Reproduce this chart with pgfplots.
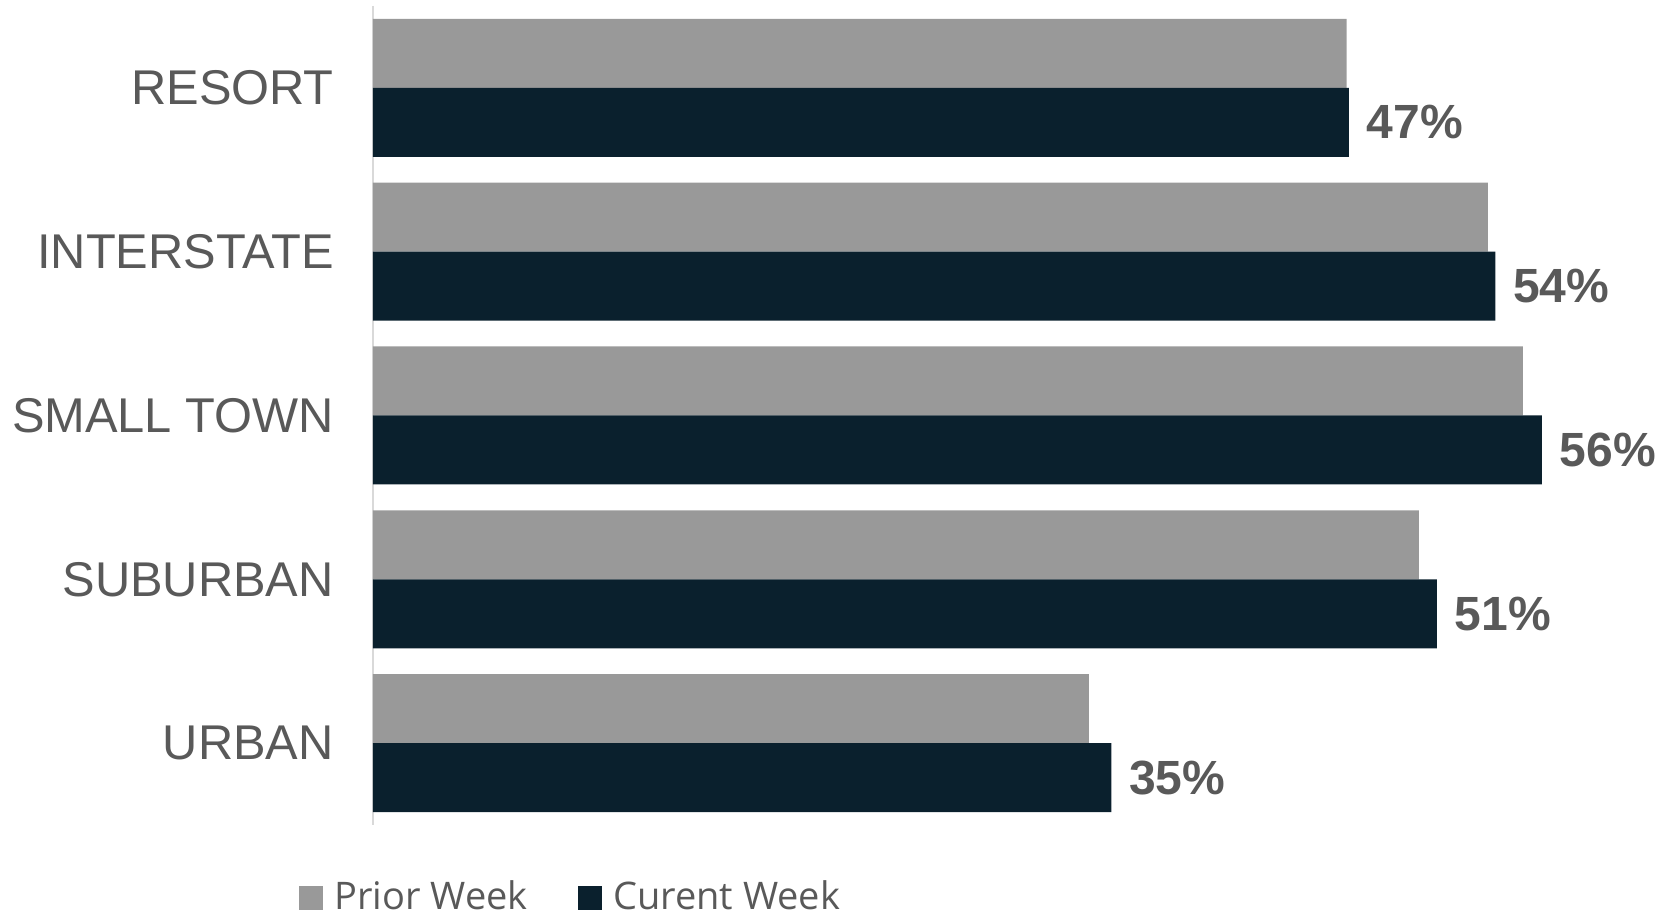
\documentclass[border=0pt]{standalone}
\usepackage{fontspec}
\setmainfont{Liberation Sans}
\newfontfamily\legendfont{Open Sans}
\usepackage{pgfplots}
\pgfplotsset{compat=1.18}
\definecolor{priorgray}{HTML}{999999}
\definecolor{curnavy}{HTML}{0A202D}
\definecolor{labelgray}{HTML}{595959}
\definecolor{axisgray}{HTML}{D9D9D9}

\begin{document}
\begin{tikzpicture}
\begin{axis}[
  at={(0pt,0pt)}, anchor=south west,
  scale only axis,
  width=312.9pt, height=204.75pt,
  xbar=0pt, bar width=17.25pt,
  xmin=0, xmax=60,
  ymin=-0.5, ymax=4.5, y dir=reverse,
  ytick={0,1,2,3,4},
  yticklabels={RESORT,INTERSTATE,SMALL TOWN,SUBURBAN,URBAN},
  axis x line=none,
  axis y line*=left,
  y axis line style={axisgray, line width=0.5pt},
  major tick length=0pt,
  y tick label style={font=\fontsize{12.2}{14}\selectfont, text=labelgray, inner sep=0pt, xshift=-9.6pt},
  clip=false,
  legend columns=2,
  legend style={at={(0.1604,-0.0891)}, anchor=center, draw=none, fill=none,
    font=\legendfont\fontsize{9.5}{11}\selectfont, text=labelgray,
    /tikz/every odd column/.append style={column sep=0.8pt},
    /tikz/every even column/.append style={column sep=10.5pt}},
  every axis plot post/.append style={
    legend image code/.code={\fill[##1] (0pt,-3pt) rectangle (6pt,3pt);}},
]
% prior week (upper bar of each pair)
\addplot[fill=priorgray, draw=none, bar shift=8.625pt]
  coordinates {(46.68,0) (53.44,1) (55.12,2) (50.14,3) (34.32,4)};
\addlegendentry{Prior Week}
% current week (lower bar, with label)
\addplot[fill=curnavy, draw=none, bar shift=-8.625pt, point meta=explicit symbolic,
  nodes near coords={\pgfplotspointmeta\%},
  nodes near coords style={font=\bfseries\fontsize{12}{14}\selectfont, text=labelgray, anchor=west, inner sep=0pt, xshift=4.25pt}]
  coordinates {(46.78,0) [47] (53.80,1) [54] (56.04,2) [56] (51.00,3) [51] (35.40,4) [35]};
\addlegendentry{Curent Week}
\end{axis}
\pgfresetboundingbox
\useasboundingbox (-93.25pt,-22.75pt) rectangle (322.25pt,206.25pt);
\end{tikzpicture}
\end{document}
